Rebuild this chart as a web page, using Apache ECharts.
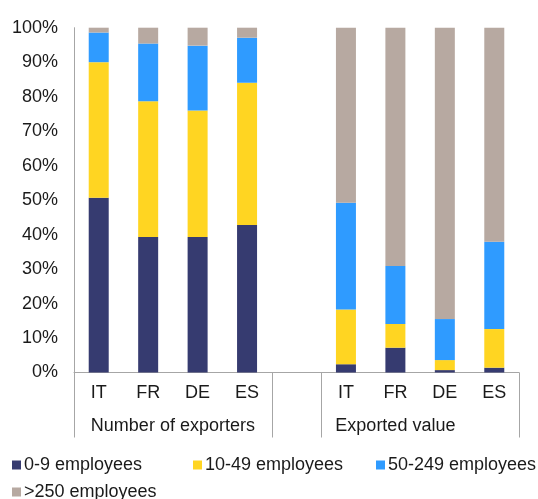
<!DOCTYPE html>
<html>
<head>
<meta charset="utf-8">
<style>html,body{margin:0;padding:0;background:#fff}#c{width:538px;height:499px}</style>
<script src="https://cdn.jsdelivr.net/npm/echarts@6/dist/echarts.min.js"></script>
</head>
<body>
<div id="c"></div>
<script>
const categories = ['IT','FR','DE','ES','','IT','FR','DE','ES'];
const groupLabels = ['Number of exporters','Exported value'];
const seriesNames = ['0-9 employees','10-49 employees','50-249 employees','>250 employees'];
const s0_9    = [50.7, 39.3, 39.3, 42.8, null, 2.4, 7.2, 0.7, 1.4];
const s10_49  = [39.3, 39.4, 36.7, 41.2, null, 15.9, 6.9, 2.9, 11.2];
const s50_249 = [8.6, 16.7, 18.8, 13.1, null, 30.9, 16.8, 11.9, 25.3];
const s250    = [1.4, 4.6, 5.2, 2.9, null, 50.8, 69.1, 84.5, 62.1];
const yTicks = [0,10,20,30,40,50,60,70,80,90,100];

const colors = ['#363B70','#FFD522','#2F9BFF','#B7A9A1'];
const allData = [s0_9, s10_49, s50_249, s250];
const axisGray = '#A6A6A6';
const txt = '#1a1a1a';
const font = 'Liberation Sans, Arial, sans-serif';

const chart = echarts.init(document.getElementById('c'), null, {renderer:'canvas'});
const legendPos = [[12,456],[193,456],[376,456],[12,483]];
chart.setOption({
  animation:false,
  color: colors,
  grid:{left:74,right:19,top:27.7,bottom:126.5,containLabel:false},
  legend: seriesNames.map((n,i)=>({
    data:[n], left:legendPos[i][0], top:legendPos[i][1], padding:0,
    icon:'rect', itemWidth:9, itemHeight:9,
    textStyle:{fontSize:18,color:txt,fontFamily:font,padding:[0,0,0,-2]},
    selectedMode:false
  })),
  xAxis:[{
    type:'category', data:categories, gridIndex:0,
    axisLine:{show:true,lineStyle:{color:axisGray,width:1}},
    axisTick:{show:false},
    axisLabel:{fontSize:18,color:txt,fontFamily:font,margin:12,interval:0},
    splitLine:{show:false}
  },{
    type:'value', min:0, max:categories.length, gridIndex:0, position:'bottom',
    axisLine:{show:false},
    axisTick:{show:true,length:65,customValues:[0,4,5,9],lineStyle:{color:axisGray,width:1}},
    axisLabel:{show:true,customValues:[2,6.5],fontSize:18,color:txt,fontFamily:font,margin:45,
      formatter:function(v){return v===2?groupLabels[0]:(v===6.5?groupLabels[1]:'');}},
    splitLine:{show:false}
  }],
  yAxis:{
    type:'value', min:0, max:100, interval:10,
    axisLine:{show:true,lineStyle:{color:axisGray,width:1}},
    axisTick:{show:false},
    splitLine:{show:false},
    axisLabel:{fontSize:18,color:txt,fontFamily:font,margin:16,formatter:'{value}%'}
  },
  series: seriesNames.map((n,i)=>({
    name:n, type:'bar', stack:'total', barWidth:20,
    data: allData[i],
    itemStyle:{color:colors[i]}
  }))
});
</script>
</body>
</html>
